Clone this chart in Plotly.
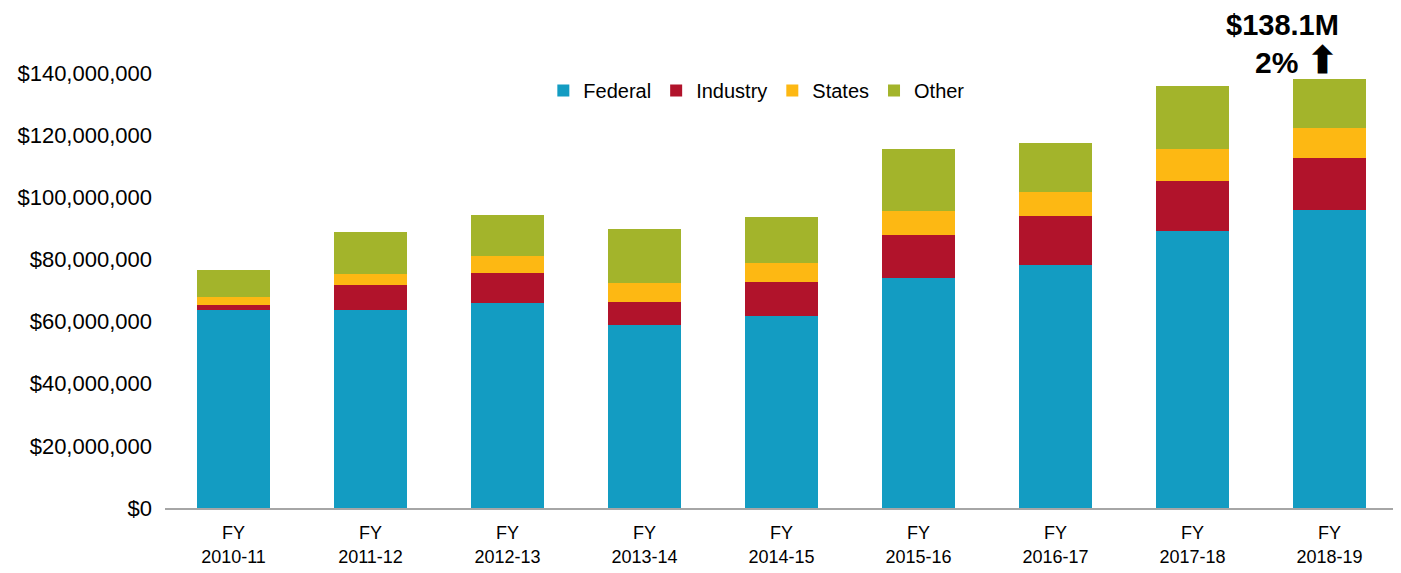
import plotly.graph_objects as go

categories = ["FY<br>2010-11", "FY<br>2011-12", "FY<br>2012-13", "FY<br>2013-14", "FY<br>2014-15",
              "FY<br>2015-16", "FY<br>2016-17", "FY<br>2017-18", "FY<br>2018-19"]
federal = [63.7, 63.7, 66.0, 58.9, 61.8, 74.0, 78.2, 89.2, 95.9]
industry = [1.6, 8.1, 9.6, 7.4, 10.9, 13.9, 15.8, 16.0, 16.7]
states = [2.6, 3.5, 5.5, 6.1, 6.2, 7.7, 7.7, 10.3, 9.7]
other = [8.7, 13.5, 13.2, 17.4, 14.8, 19.9, 15.8, 20.3, 15.8]
series_names = ["Federal", "Industry", "States", "Other"]
colors = ["#139CC2", "#B1132B", "#FDB813", "#A3B42B"]
tick_vals = [0, 20, 40, 60, 80, 100, 120, 140]
tick_text = ["$0", "$20,000,000", "$40,000,000", "$60,000,000", "$80,000,000",
             "$100,000,000", "$120,000,000", "$140,000,000"]

fig = go.Figure()
for name, vals, col in zip(series_names, [federal, industry, states, other], colors):
    fig.add_trace(go.Bar(x=categories, y=vals, name=name, marker_color=col,
                         marker_line_width=0))

fig.update_layout(
    barmode="stack",
    width=1393, height=565,
    margin=dict(l=157, r=3, t=65, b=65, autoexpand=False),
    paper_bgcolor="white", plot_bgcolor="white",
    bargap=0.474,
    font=dict(family="Liberation Sans, Arial, sans-serif", color="black"),
    showlegend=True,
    legend=dict(orientation="h", x=0.48, y=0.96, xanchor="center", yanchor="middle",
                font=dict(size=20), traceorder="normal", bgcolor="rgba(0,0,0,0)",
                itemwidth=30),
)
fig.update_xaxes(showline=True, linecolor="#A6A6A6", linewidth=1.5, showgrid=False,
                 tickfont=dict(size=18), ticklabelstandoff=8, fixedrange=True)
fig.update_yaxes(range=[0, 140], tickvals=tick_vals, ticktext=tick_text, showgrid=False,
                 zeroline=False, showline=False, tickfont=dict(size=22),
                 ticklabelstandoff=12, fixedrange=True)

fig.add_annotation(x=categories[-1], y=1.0, yref="paper", yshift=48, text="<b>$138.1M</b>",
                   showarrow=False, xshift=-47, font=dict(size=29), yanchor="middle")
fig.add_annotation(x=categories[-1], y=1.0, yref="paper", yshift=13,
                   text="<b>2% <span style='font-size:37px'>⬆</span></b>",
                   showarrow=False, xshift=-33, font=dict(size=30), yanchor="middle")

fig.write_html("out.html")
